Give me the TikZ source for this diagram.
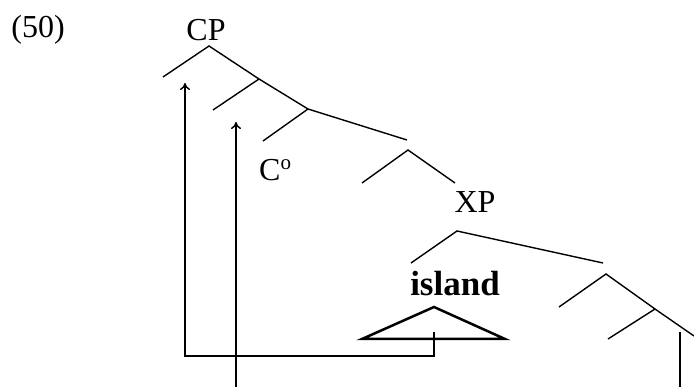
\documentclass[tikz,border=0pt]{standalone}
\usepackage{fontspec}
\setmainfont{Liberation Serif}
\usetikzlibrary{arrows.meta}
\begin{document}
\begin{tikzpicture}[x=1pt,y=-1pt,
  branch/.style={line width=1.4pt},
  tri/.style={line width=2.5pt, line join=miter},
  mv/.style={line width=1.4pt,-{To[length=7pt,width=10pt]}},
  lab/.style={font=\fontsize{32}{34}\selectfont, inner sep=0pt}]
\useasboundingbox (0,0) rectangle (694,387);
% labels
\node[lab] (ex) at (38,30) {(50)};
\node[lab] (cp) at (206,30) {CP};
\node[lab, anchor=base west] (c0) at (259,181) {C\raisebox{11pt}{\fontsize{21}{22}\selectfont o}};
\node[lab] (xp) at (475,202) {XP};
\node[lab, font=\fontsize{35}{37}\selectfont\bfseries] (isl) at (455,284) {island};
% tree points
\coordinate (t0) at (209,46);
\coordinate (a1) at (163,77);
\coordinate (t1) at (259,79);
\coordinate (a2) at (213,110);
\coordinate (t2) at (308,109);
\coordinate (a3) at (263,141);
\coordinate (e3) at (407,140);
\coordinate (t3) at (408,150);
\coordinate (a4) at (362,183);
\coordinate (b4) at (455,183);
\coordinate (t4) at (457,231);
\coordinate (a5) at (411,263);
\coordinate (e5) at (603,263);
\coordinate (t5) at (606,274);
\coordinate (a6) at (559,307);
\coordinate (t6) at (655,309);
\coordinate (a7) at (608,339);
\coordinate (e7) at (694,336);
\coordinate (v1) at (680,332);
\coordinate (v2) at (680,387);
% triangle
\coordinate (ta) at (434,307);
\coordinate (tl) at (362,339);
\coordinate (tr) at (505,339);
% movement path points
\coordinate (m0) at (434,332);
\coordinate (m1) at (434,356);
\coordinate (m2) at (185,356);
\coordinate (m3) at (185,83);
\coordinate (k0) at (236,387);
\coordinate (k1) at (236,122);
% tree
\draw[branch] (a1) -- (t0) -- (t1) -- (t2) -- (e3);
\draw[branch] (t1) -- (a2);
\draw[branch] (t2) -- (a3);
\draw[branch] (a4) -- (t3) -- (b4);
\draw[branch] (a5) -- (t4) -- (e5);
\draw[branch] (a6) -- (t5) -- (t6) -- (e7);
\draw[branch] (t6) -- (a7);
\draw[branch] (v1) -- (v2);
\draw[tri] (tl) -- (ta) -- (tr) -- cycle;
% movement arrows
\draw[mv] (m0) -- (m1) -- (m2) -- (m3);
\draw[mv] (k0) -- (k1);
\end{tikzpicture}
\end{document}
